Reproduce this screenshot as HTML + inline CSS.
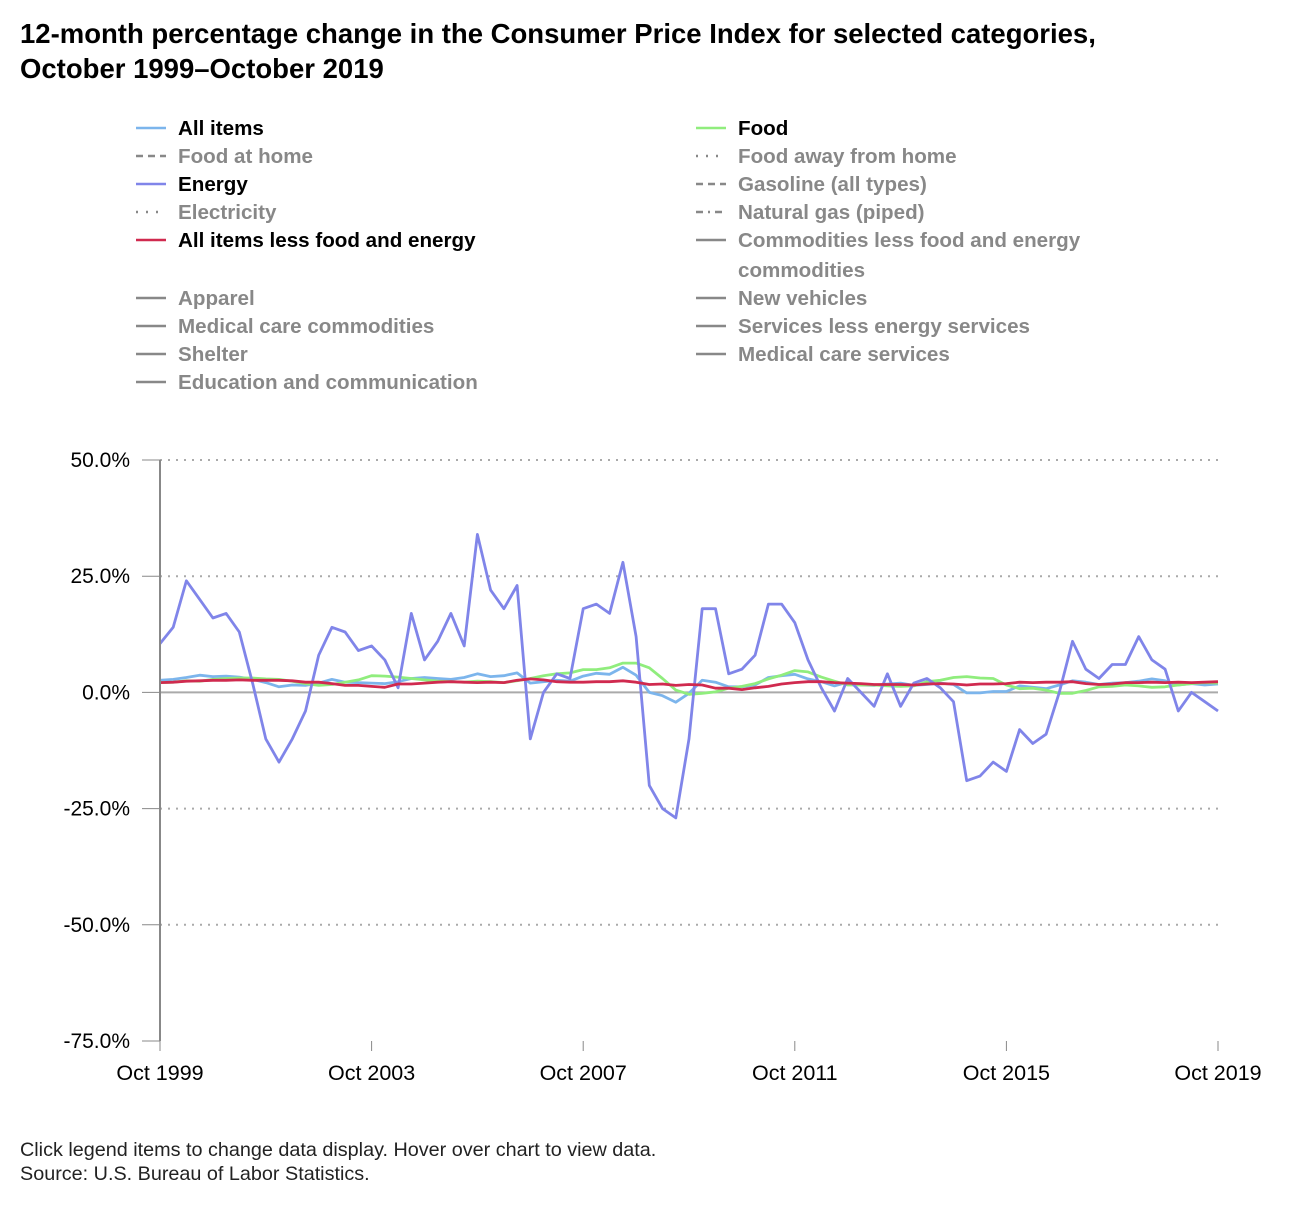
<!DOCTYPE html>
<html><head><meta charset="utf-8"><style>
body{margin:0;background:#fff;width:1300px;height:1200px;overflow:hidden;font-family:"Liberation Sans",sans-serif}
</style></head><body>
<svg id="chart" width="1300" height="1200" xmlns="http://www.w3.org/2000/svg" font-family="Liberation Sans, DejaVu Sans, sans-serif">
<text x="20" y="43" font-size="27.5" font-weight="bold" fill="#000">12-month percentage change in the Consumer Price Index for selected categories,</text>
<text x="20" y="78" font-size="27.5" font-weight="bold" fill="#000">October 1999–October 2019</text>
<g id="legend" font-size="20.6" font-weight="bold"></g>
<g id="grid"></g>
<g id="series"></g>
<g id="axes"></g>
<text x="20" y="1156" font-size="19.8" fill="#222">Click legend items to change data display. Hover over chart to view data.</text>
<text x="20" y="1180" font-size="19.8" fill="#222">Source: U.S. Bureau of Labor Statistics.</text>
</svg>
<script>
// Quarterly observations, Oct 1999 .. Oct 2019 (months offset = index*3)
const yTicks = [50, 25, 0, -25, -50, -75];
const yTickLabels = ["50.0%", "25.0%", "0.0%", "-25.0%", "-50.0%", "-75.0%"];
const xTickMonths = [0, 48, 96, 144, 192, 240];
const xTickLabels = ["Oct 1999", "Oct 2003", "Oct 2007", "Oct 2011", "Oct 2015", "Oct 2019"];
const allItems = [2.6,2.8,3.2,3.7,3.4,3.5,3.3,2.8,2.1,1.2,1.6,1.5,2.0,2.8,2.2,2.1,2.0,1.9,2.3,3.0,3.2,3.0,2.8,3.2,4.0,3.4,3.6,4.2,2.0,2.3,2.6,2.4,3.5,4.1,3.9,5.4,3.7,0.0,-0.7,-2.1,-0.2,2.6,2.2,1.2,1.2,1.6,3.2,3.6,3.9,2.9,2.3,1.4,2.2,1.6,1.5,1.8,2.0,1.5,1.7,2.0,1.7,-0.1,-0.1,0.2,0.2,1.4,1.1,0.8,1.6,2.5,2.2,1.7,2.0,2.1,2.4,2.9,2.5,1.6,1.9,1.6,1.8];
const food = [2.1,2.2,2.5,2.4,2.8,3.0,3.1,3.1,2.9,2.8,2.4,1.9,1.5,1.7,2.2,2.7,3.6,3.5,3.3,3.0,2.7,2.4,2.3,2.2,2.4,2.3,2.1,2.5,3.0,3.6,4.0,4.2,4.9,4.9,5.3,6.3,6.3,5.3,3.0,0.5,-0.4,-0.2,0.1,0.9,1.3,1.9,2.9,3.7,4.7,4.4,3.3,2.4,1.6,1.6,1.6,1.4,1.3,1.4,2.3,2.6,3.2,3.4,3.1,3.0,1.6,0.8,0.9,0.5,-0.2,-0.2,0.4,1.2,1.3,1.6,1.4,1.1,1.2,1.6,1.9,2.1,2.0];
const energy = [10.5,14,24,20,16,17,13,2,-10,-15,-10,-4,8,14,13,9,10,7,1,17,7,11,17,10,34,22,18,23,-10,0,4,3,18,19,17,28,12,-20,-25,-27,-10,18,18,4,5,8,19,19,15,7,1,-4,3,0,-3,4,-3,2,3,1,-2,-19,-18,-15,-17,-8,-11,-9,0,11,5,3,6,6,12,7,5,-4,0,-2,-4];
const core = [2.1,2.2,2.4,2.5,2.6,2.6,2.7,2.6,2.6,2.6,2.5,2.2,2.2,1.9,1.5,1.5,1.3,1.1,1.8,1.8,2.0,2.2,2.3,2.2,2.1,2.2,2.1,2.6,2.9,2.7,2.3,2.2,2.2,2.3,2.3,2.5,2.2,1.7,1.8,1.5,1.7,1.6,0.9,0.9,0.6,1.0,1.3,1.8,2.1,2.3,2.3,2.1,2.0,1.9,1.7,1.7,1.7,1.6,1.8,1.9,1.8,1.6,1.8,1.8,1.9,2.2,2.1,2.2,2.2,2.3,1.9,1.7,1.8,2.1,2.1,2.2,2.1,2.2,2.1,2.2,2.3];
const legendLabels = ["All items","Food","Food at home","Food away from home","Energy","Gasoline (all types)","Electricity","Natural gas (piped)","All items less food and energy","Commodities less food and energy","Apparel","New vehicles","Medical care commodities","Services less energy services","Shelter","Medical care services","Education and communication"];

const NS="http://www.w3.org/2000/svg";
const X0=160,X1=1218,Y50=460,Ym75=1041;
function xs(m){return X0+(X1-X0)*m/240;}
function ys(v){return Y50+(50-v)*(Ym75-Y50)/125;}
function mk(tag,attrs,parent){const e=document.createElementNS(NS,tag);for(const k in attrs)e.setAttribute(k,attrs[k]);parent.appendChild(e);return e;}

const grid=document.getElementById('grid');
yTicks.forEach((t,i)=>{
  const y=ys(t);
  if(t!==0&&t!==-75){const l=mk('line',{x1:X0,x2:X1+2,y1:y,y2:y,stroke:'#aaa','stroke-width':2,'stroke-dasharray':'2,6'},grid);
  
  }
  const tx=mk('text',{x:130,y:y+7,'text-anchor':'end','font-size':21,fill:'#000'},grid);
  tx.textContent=yTickLabels[i];
  
  
  const tk=mk('line',{x1:X0-18,x2:X0,y1:y,y2:y,stroke:'#888','stroke-width':1},grid);
  
  
});
const zl=mk('line',{x1:X0,x2:X1,y1:ys(0),y2:ys(0),stroke:'#aaa','stroke-width':2},grid);



const axes=document.getElementById('axes');
const ya=mk('line',{x1:X0,x2:X0,y1:Y50,y2:Ym75,stroke:'#888','stroke-width':2},axes);


xTickMonths.forEach((m,i)=>{
  const x=xs(m);
  const tk=mk('line',{x1:x,x2:x,y1:Ym75,y2:Ym75+10,stroke:'#888','stroke-width':1},axes);
  
  
  const tx=mk('text',{x:x,y:Ym75+39,'text-anchor':'middle','font-size':21.5,fill:'#000'},axes);
  tx.textContent=xTickLabels[i];
  
  
});

const ser=document.getElementById('series');
function drawSeries(vals,color,name){
  const d=vals.map((v,i)=>(i?'L':'M')+xs(i*3).toFixed(1)+','+ys(v).toFixed(1)).join(' ');
  const p=mk('path',{d:d,fill:'none',stroke:color,'stroke-width':2.8,'stroke-linejoin':'round'},ser);
  
  
}
drawSeries(allItems,'#7cb5ec','all-items-line');
drawSeries(food,'#90ed7d','food-line');
drawSeries(energy,'#8085e9','energy-line');
drawSeries(core,'#d02a4f','core-line');

// legend
const lg=document.getElementById('legend');
const active={"All items":'#7cb5ec',"Food":'#90ed7d',"Energy":'#8085e9',"All items less food and energy":'#d02a4f'};
const dashes={"Food at home":'7,5',"Food away from home":'2,8',"Gasoline (all types)":'7,5',"Electricity":'2,8',"Natural gas (piped)":'7,5,2,5'};
const rowsY=[128,156,184,212,240,298,326,354,382];
legendLabels.forEach((lab,i)=>{
  const col=i%2,row=Math.floor(i/2);
  const y=rowsY[row];
  const ix=col?696:136;
  const g=mk('g',{},lg);
  
  
  const c=active[lab]||'#888';
  const ln=mk('line',{x1:ix,x2:ix+30,y1:y,y2:y,stroke:c,'stroke-width':2.5},g);
  if(dashes[lab])ln.setAttribute('stroke-dasharray',dashes[lab]);
  const t=mk('text',{x:ix+42,y:y+7,fill:active[lab]?'#000':'#888'},g);
  if(lab==="Commodities less food and energy"){
    t.textContent=lab;
    const t2=mk('text',{x:ix+42,y:y+37,fill:'#888'},g);t2.textContent='commodities';
  } else t.textContent=lab;
});
</script>
</body></html>
